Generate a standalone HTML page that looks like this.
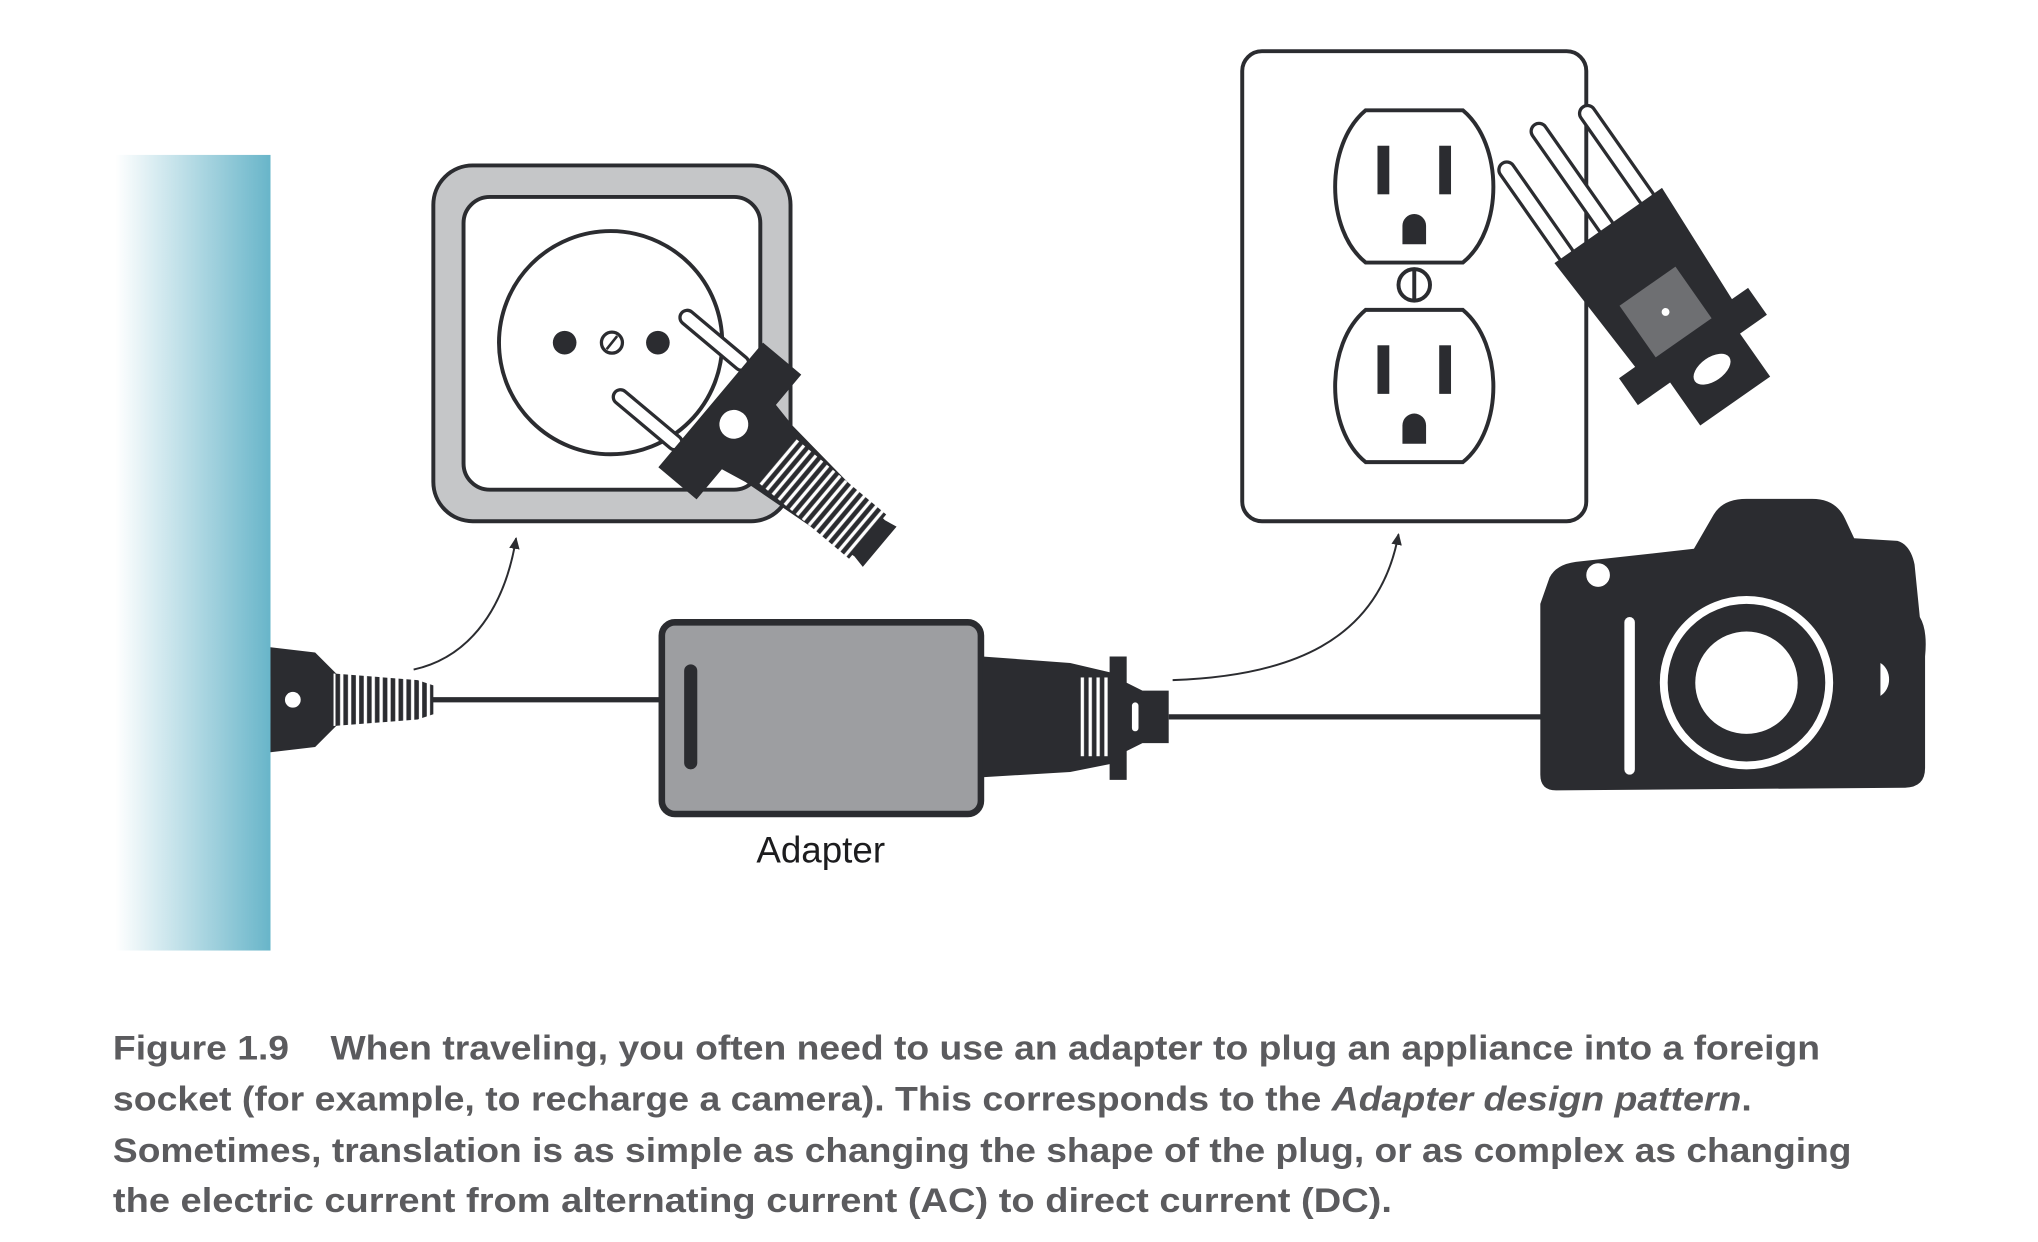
<!DOCTYPE html>
<html><head><meta charset="utf-8"><style>
html,body{margin:0;padding:0;background:#fff;}
svg{display:block;}
</style></head><body>
<svg width="2038" height="1242" viewBox="0 0 1552 946" preserveAspectRatio="none" xmlns="http://www.w3.org/2000/svg">
<defs>
<linearGradient id="wall" x1="0" x2="1" y1="0" y2="0">
<stop offset="0" stop-color="#ffffff"/><stop offset="1" stop-color="#68b5c9"/>
</linearGradient>
<marker id="ah" markerWidth="10" markerHeight="10" refX="8" refY="5" orient="auto" markerUnits="userSpaceOnUse">
<path d="M0,1 L9,5 L0,9 Z" fill="#2b2c30"/></marker>
<pattern id="stripes" width="6" height="10" patternUnits="userSpaceOnUse">
<rect width="6" height="10" fill="#2b2c30"/><rect x="1" width="2.5" height="10" fill="#fff"/></pattern>
</defs>
<rect width="1552" height="946" fill="#fff"/>
<rect x="88" y="118" width="118" height="606" fill="url(#wall)"/>

<rect x="330" y="126" width="272" height="271" rx="30" fill="#c5c6c8" stroke="#2b2c30" stroke-width="3"/>
<rect x="353" y="150" width="226" height="223" rx="20" fill="#fff" stroke="#2b2c30" stroke-width="3"/>
<circle cx="465" cy="261" r="85" fill="#fff" stroke="#2b2c30" stroke-width="3"/>
<circle cx="430" cy="261" r="9" fill="#2b2c30"/>
<circle cx="501" cy="261" r="9" fill="#2b2c30"/>
<circle cx="466" cy="261" r="8" fill="#fff" stroke="#2b2c30" stroke-width="2.5"/>
<line x1="462" y1="266" x2="470" y2="256" stroke="#2b2c30" stroke-width="2"/>
<g transform="translate(555,320) rotate(40)">
<rect x="-80" y="-45" width="65" height="11" rx="5.5" fill="#fff" stroke="#2b2c30" stroke-width="2.5"/>
<rect x="-80" y="34" width="65" height="11" rx="5.5" fill="#fff" stroke="#2b2c30" stroke-width="2.5"/>
<path d="M-18,-62 L20,-62 L20,-32 L40,-28 L140,-18 L150,-20 L150,20 L140,18 L40,28 L20,32 L20,62 L-18,62 Z" fill="#2b2c30"/>
<rect x="48" y="-22" width="90" height="44" fill="url(#stripes)"/>
<circle cx="5" cy="0" r="11" fill="#fff"/>
</g>
<path d="M315,510 C360,500 385,460 393,410" fill="none" stroke="#2b2c30" stroke-width="1.5" marker-end="url(#ah)"/>

<path d="M206,493 L240,497 L258,515 L258,551 L240,569 L206,573 Z" fill="#2b2c30"/>
<circle cx="223" cy="533" r="6" fill="#fff"/>
<path d="M254,513 L318,518 L330,522 L330,544 L318,548 L254,553 Z" fill="url(#stripes)"/>
<line x1="328" y1="533" x2="504" y2="533" stroke="#2b2c30" stroke-width="4"/>

<rect x="504" y="474" width="243" height="146" rx="10" fill="#9d9ea1" stroke="#2b2c30" stroke-width="5"/>
<rect x="521" y="506" width="10" height="80" rx="5" fill="#2b2c30"/>
<path d="M748,500 L815,505 L845,512 L845,500 L858,500 L858,520 L870,526 L890,526 L890,566 L870,566 L858,572 L858,594 L845,594 L845,582 L815,588 L748,592 Z" fill="#2b2c30"/>
<rect x="820" y="516" width="24" height="60" fill="url(#stripes)"/>
<rect x="862" y="535" width="5" height="22" rx="2.5" fill="#fff"/>
<line x1="890" y1="546" x2="1176" y2="546" stroke="#2b2c30" stroke-width="4"/>
<text x="625" y="657" font-family="Liberation Sans, sans-serif" font-size="28" text-anchor="middle" fill="#1c1c1e">Adapter</text>
<path d="M893,518 C980,515 1050,490 1065,407" fill="none" stroke="#2b2c30" stroke-width="1.5" marker-end="url(#ah)"/>

<rect x="946" y="39" width="262" height="358" rx="15" fill="#fff" stroke="#2b2c30" stroke-width="3"/>
<g fill="#fff" stroke="#2b2c30" stroke-width="3">
<path d="M1040,84 L1114,84 C1145,110 1145,175 1114,200 L1040,200 C1009,175 1009,110 1040,84 Z"/>
<path d="M1040,236 L1114,236 C1145,262 1145,327 1114,352 L1040,352 C1009,327 1009,262 1040,236 Z"/>
</g>
<g fill="#2b2c30">
<rect x="1049" y="111" width="9" height="37"/><rect x="1096" y="111" width="9" height="37"/>
<path d="M1068,186 L1068,172 A9,9 0 0 1 1086,172 L1086,186 Z"/>
<rect x="1049" y="263" width="9" height="37"/><rect x="1096" y="263" width="9" height="37"/>
<path d="M1068,338 L1068,324 A9,9 0 0 1 1086,324 L1086,338 Z"/>
</g>
<circle cx="1077" cy="217" r="12" fill="#fff" stroke="#2b2c30" stroke-width="3"/>
<line x1="1077" y1="205" x2="1077" y2="229" stroke="#2b2c30" stroke-width="3"/>
<g transform="translate(1262,225) rotate(-35)">
<rect x="-45" y="-150" width="12" height="90" rx="6" fill="#fff" stroke="#2b2c30" stroke-width="2.5"/>
<rect x="-8" y="-160" width="12" height="100" rx="6" fill="#fff" stroke="#2b2c30" stroke-width="2.5"/>
<rect x="30" y="-150" width="12" height="90" rx="6" fill="#fff" stroke="#2b2c30" stroke-width="2.5"/>
<path d="M-50,-65 L50,-65 L45,35 L60,35 L60,60 L35,60 L35,100 L-30,100 L-30,60 L-60,60 L-60,35 L-45,35 Z" fill="#2b2c30"/>
<rect x="-28" y="-10" width="52" height="48" fill="#6e6f72"/>
<circle cx="-2" cy="14" r="3" fill="#fff"/>
<ellipse cx="2" cy="70" rx="16" ry="9" fill="#fff"/>
</g>

<path d="M1180,440 Q1185,430 1200,428 L1290,418 L1305,392 Q1312,380 1330,380 L1380,380 Q1398,380 1405,395 L1412,410 L1445,412 Q1455,415 1458,430 L1462,470 Q1468,480 1466,500 L1466,585 Q1466,600 1450,600 L1185,602 Q1173,602 1173,590 L1173,460 Z" fill="#2b2c30"/>
<circle cx="1217" cy="438" r="9" fill="#fff"/>
<rect x="1237" y="470" width="8" height="120" rx="4" fill="#fff"/>
<circle cx="1330" cy="520" r="63" fill="none" stroke="#fff" stroke-width="6"/>
<circle cx="1330" cy="520" r="39" fill="#fff"/>
<path d="M1432,505 A12,14 0 0 1 1432,530 Z" fill="#fff"/>

<g font-family="Liberation Sans, sans-serif" font-weight="bold" font-size="26" fill="#5b5b5e">
<text x="86" y="807" textLength="1300" lengthAdjust="spacingAndGlyphs">Figure 1.9&#160;&#160;&#160;&#160;When traveling, you often need to use an adapter to plug an appliance into a foreign</text>
<text x="86" y="846" textLength="1248" lengthAdjust="spacingAndGlyphs">socket (for example, to recharge a camera). This corresponds to the <tspan font-style="italic">Adapter design pattern</tspan>.</text>
<text x="86" y="885" textLength="1324" lengthAdjust="spacingAndGlyphs">Sometimes, translation is as simple as changing the shape of the plug, or as complex as changing</text>
<text x="86" y="923" textLength="974" lengthAdjust="spacingAndGlyphs">the electric current from alternating current (AC) to direct current (DC).</text>
</g>
</svg>
</body></html>
